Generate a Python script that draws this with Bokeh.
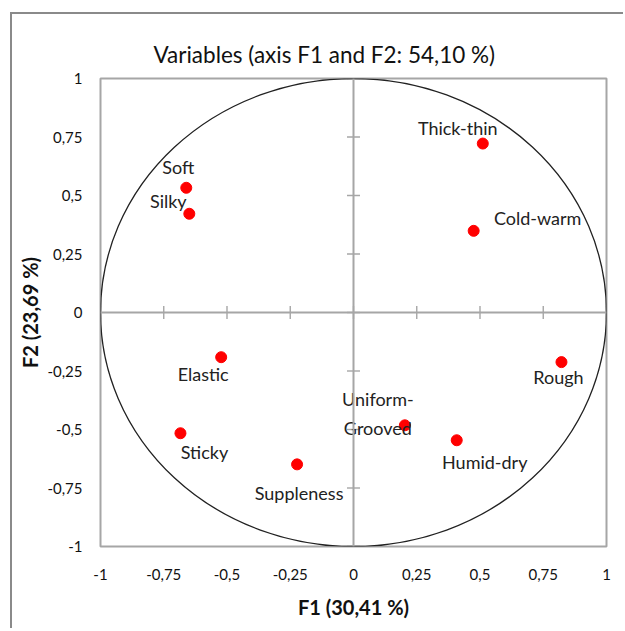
import math
from bokeh.plotting import figure
from bokeh.models import ColumnDataSource, FixedTicker, CustomJSTickFormatter, Span
from bokeh.core.properties import value
from bokeh.embed import file_html
from bokeh.resources import INLINE

# ---- data ----
variables = ["Soft", "Silky", "Thick-thin", "Cold-warm", "Elastic",
             "Uniform-\nGrooved", "Sticky", "Suppleness", "Humid-dry", "Rough"]
f1 = [-0.661, -0.649, 0.511, 0.475, -0.523, 0.203, -0.684, -0.223, 0.408, 0.822]
f2 = [0.533, 0.422, 0.722, 0.349, -0.191, -0.482, -0.516, -0.649, -0.546, -0.212]
# label placement (screen px, relative to the point)
lab_dx = [-8, -21, -25, 64, -18, -27, 24, 2, 28, -3]
lab_dy = [-21, -13, -16, -13, 17, -12, 19, 29, 22, 15]
tick_values = [-1, -0.75, -0.5, -0.25, 0, 0.25, 0.5, 0.75, 1]

FONT = "Lato"
GREY = "#a6a6a6"

src = ColumnDataSource(dict(x=f1, y=f2, name=variables, dx=lab_dx, dy=lab_dy))

p = figure(width=613, height=616, x_range=(-1, 1), y_range=(-1, 1),
           output_backend="svg", toolbar_location=None,
           min_border_left=88, min_border_right=19, min_border_top=64, min_border_bottom=84)
p.styles = {"border-top": "2px solid #8a8a8a", "border-left": "2px solid #8a8a8a",
            "margin-top": "12px", "margin-left": "10px"}

p.grid.visible = False
p.outline_line_color = GREY
p.outline_line_width = 2

fmt = CustomJSTickFormatter(code="return tick.toString().replace('.', ',');")
for ax in (p.xaxis, p.yaxis):
    ax.ticker = FixedTicker(ticks=tick_values)
    ax.formatter = fmt
    ax.axis_line_color = None
    ax.major_tick_line_color = None
    ax.minor_tick_line_color = None
    ax.major_tick_out = 0
    ax.major_tick_in = 0
    ax.major_label_text_font = FONT
    ax.major_label_text_font_size = "15px"
    ax.major_label_text_color = "#111111"
    ax.axis_label_text_font = FONT
    ax.axis_label_text_font_style = "bold"
    ax.axis_label_text_font_size = "20px"
    ax.axis_label_text_color = "#111111"
p.xaxis.major_label_standoff = 22
p.yaxis.major_label_standoff = 18
p.xaxis.axis_label = "F1 (30,41 %)"
p.yaxis.axis_label = "F2 (23,69 %)"
p.xaxis.axis_label_standoff = 12
p.yaxis.axis_label_standoff = 2

p.title.text = "Variables (axis F1 and F2: 54,10 %)"
p.title.text_font = FONT
p.title.text_font_style = "normal"
p.title.text_font_size = "22.5px"
p.title.text_color = "#111111"
p.title.align = "left"
p.title.offset = 53
p.title.standoff = 21

# centre lines
p.add_layout(Span(location=0, dimension="height", line_color=GREY, line_width=2))
p.add_layout(Span(location=0, dimension="width", line_color=GREY, line_width=2))
# tick marks on centre lines
p.scatter(x=[0] * len(tick_values), y=tick_values, marker="dash", size=13,
          line_color=GREY, line_width=1.4)
p.scatter(x=tick_values, y=[0] * len(tick_values), marker="dash", angle=math.pi / 2,
          size=13, line_color=GREY, line_width=1.4)

# correlation circle
p.ellipse(x=[0], y=[0], width=[2], height=[2], fill_color=None,
          line_color="#222222", line_width=1.3)

# points
p.scatter("x", "y", source=src, size=11, fill_color="#ff0000", line_color="#ff0000")
p.text("x", "y", text="name", source=src, x_offset="dx", y_offset="dy",
       text_align="center", text_baseline="middle", text_font=value(FONT),
       text_font_size="18px", text_color="#222222", text_line_height=1.3)

open("out.html", "w").write(file_html(p, INLINE))
